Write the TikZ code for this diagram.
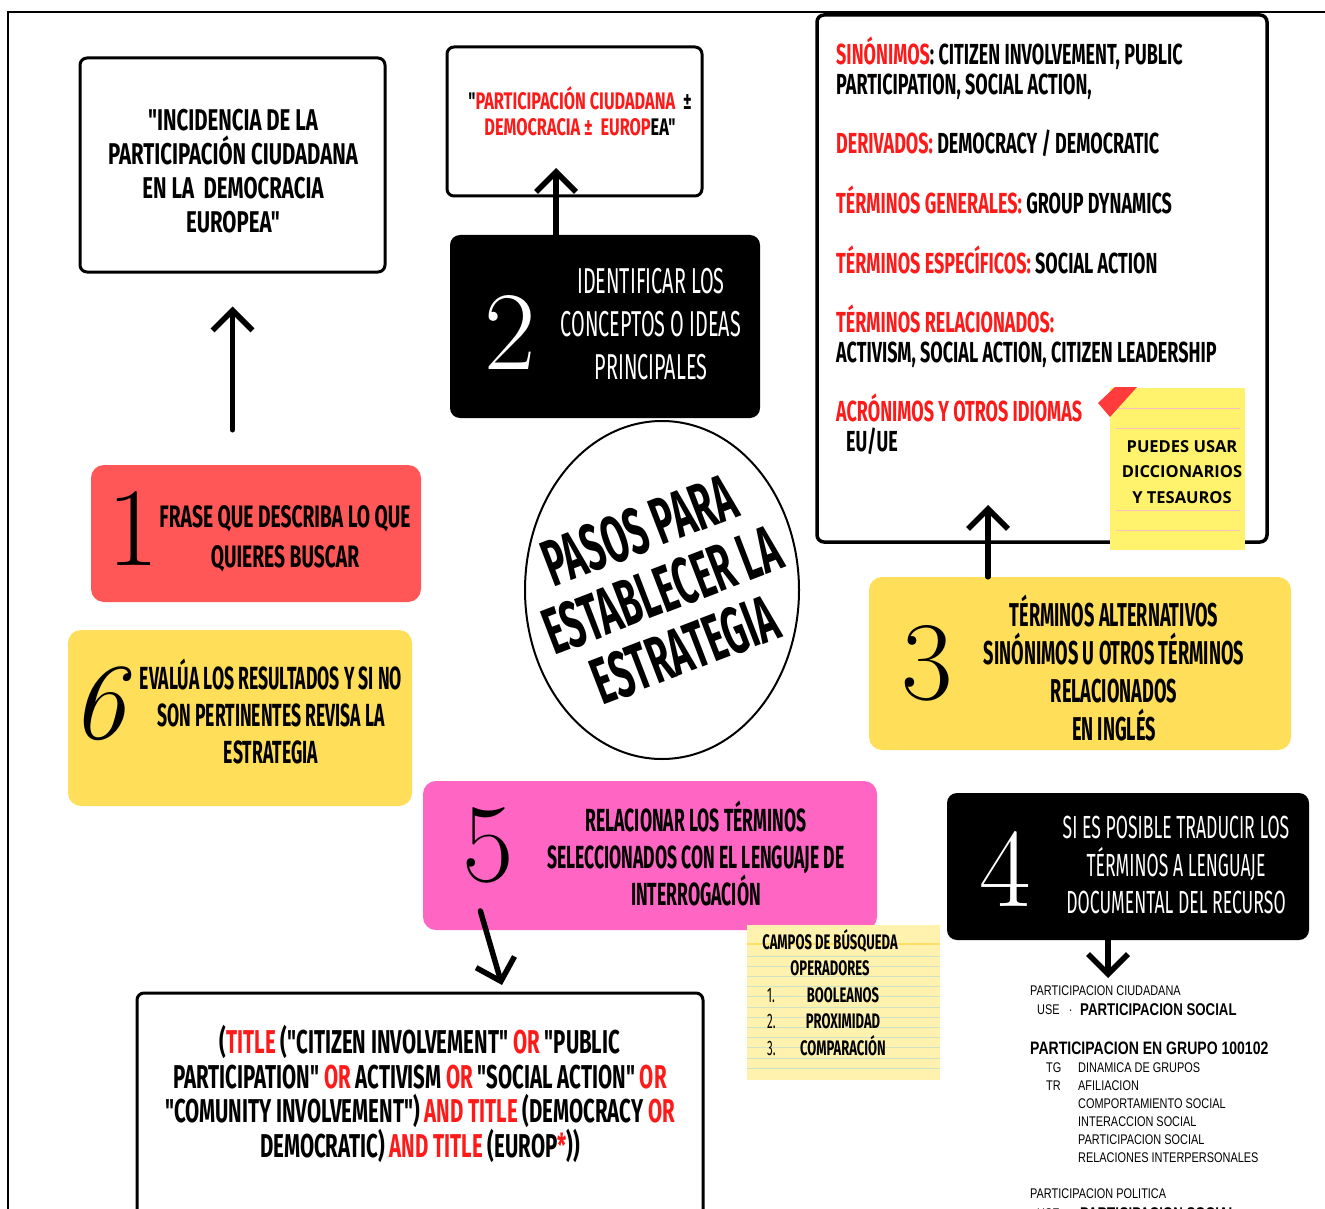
\documentclass[tikz,border=0pt]{standalone}
\usepackage{fontspec}
\usetikzlibrary{arrows.meta}
\newfontfamily\bebas[FakeStretch=0.55]{Fira Sans}
\newfontfamily\bebasw[FakeStretch=0.62]{Fira Sans}
\newfontfamily\bebasx[FakeStretch=0.68]{Fira Sans}
\newfontfamily\notefont{Open Sans}
\newfontfamily\scanfont[FakeStretch=0.78]{Liberation Sans}
\definecolor{boxred}{HTML}{FF5757}
\definecolor{boxyel}{HTML}{FFDE59}
\definecolor{boxpink}{HTML}{FF66C4}
\definecolor{txtred}{HTML}{FF1A1A}
\definecolor{stickyyel}{HTML}{FFF36E}
\definecolor{tapered}{HTML}{FF3B3B}
\definecolor{notebg}{HTML}{FFF2AE}
\definecolor{noteline}{HTML}{CFE3C4}
\definecolor{notetop}{HTML}{FFE066}
\newcommand{\rd}[1]{\textcolor{txtred}{#1}}
\begin{document}
\begin{tikzpicture}[x=1pt,y=-1pt,
  wbox/.style={draw=black, line width=3pt, rounded corners=7pt, fill=white, inner sep=0pt},
  fbox/.style={rounded corners=13pt, inner sep=0pt, draw=none},
  txt/.style={align=center, inner sep=0pt},
  num/.style={inner sep=0pt, font=\rmfamily\fontsize{112}{112}\selectfont},
  harrow/.style={line width=5.5pt, line cap=round, -{Straight Barb[length=20pt,width=40pt]}},
  ltxt/.style={anchor=base west, inner sep=0pt, font=\bebasw\bfseries\fontsize{29}{30}\selectfont},
  scan/.style={anchor=base west, inner sep=0pt, font=\scanfont\fontsize{14}{15}\selectfont, text=black},
  scanb/.style={anchor=base west, inner sep=0pt, font=\scanfont\bfseries\fontsize{17}{18}\selectfont, text=black}]
\useasboundingbox (0,0) rectangle (1325,1209);
\clip (0,0) rectangle (1325,1209);
% outer frame
\draw[line width=2pt] (8,1215) -- (8,12) -- (1330,12);

% ---------- box A (top left)
\node[wbox, minimum width=305pt, minimum height=214pt] (bA) at (232.5,165) {};
\node[txt, font=\bebasx\bfseries\fontsize{30}{34}\selectfont] (tA) at (233,171)
  {"INCIDENCIA DE LA\\PARTICIPACIÓN CIUDADANA\\EN LA\ \ DEMOCRACIA\\EUROPEA"};

% ---------- box B (top middle)
\node[wbox, minimum width=255pt, minimum height=149pt] (bB) at (574.5,121.5) {};
\node[txt, font=\bebasx\bfseries\fontsize{24}{26}\selectfont] (tB) at (580,111)
  {"\rd{PARTICIPACIÓN CIUDADANA}\ \ ±\\\rd{DEMOCRACIA ±\ \ EUROP}EA"};

% ---------- box 2 (black)
\node[fbox, fill=black, rounded corners=10pt, minimum width=310pt, minimum height=183pt] (b2) at (605,326.5) {};
\node[num, text=white] (n2) at (510,332) {2};
\node[txt, text=white, font=\bebas\fontsize{36}{43}\selectfont] (t2) at (651,324)
  {IDENTIFICAR LOS\\CONCEPTOS O IDEAS\\PRINCIPALES};

% ---------- box C (terms)
\node[wbox, line width=3.5pt, minimum width=450pt, minimum height=527pt] (bC) at (1042,278.5) {};
\node[ltxt] (c1) at (836,65) {\rd{SINÓNIMOS}: CITIZEN INVOLVEMENT, PUBLIC};
\node[ltxt] (c2) at (836,95) {PARTICIPATION, SOCIAL ACTION,};
\node[ltxt] (c3) at (836,154) {\rd{DERIVADOS:} DEMOCRACY / DEMOCRATIC};
\node[ltxt] (c4) at (836,214) {\rd{TÉRMINOS GENERALES:} GROUP DYNAMICS};
\node[ltxt] (c5) at (836,273) {\rd{TÉRMINOS ESPECÍFICOS:} SOCIAL ACTION};
\node[ltxt] (c6) at (836,332) {\rd{TÉRMINOS RELACIONADOS:}};
\node[ltxt] (c7) at (836,362) {ACTIVISM, SOCIAL ACTION, CITIZEN LEADERSHIP};
\node[ltxt] (c8) at (836,421) {\rd{ACRÓNIMOS Y OTROS IDIOMAS}};
\node[ltxt] (c9) at (846,451) {EU/UE};

% sticky note
\node[fill=stickyyel, minimum width=135pt, minimum height=162pt, inner sep=0pt] (sn) at (1177.5,469) {};
\foreach \yy in {408,428,510,530} \draw[red!25, line width=0.6pt] (1116,\yy) -- (1240,\yy);
\fill[tapered] (1098,403) -- (1115,387) -- (1137,387) -- (1110,417) -- cycle;
\node[txt, font=\notefont\bfseries\fontsize{16.5}{25.5}\selectfont] (tsn) at (1182,472)
  {PUEDES USAR\\DICCIONARIOS\\Y TESAUROS};

% ---------- circle
\draw[line width=2pt] (662,590) ellipse [x radius=137pt, y radius=169pt];
\node[txt, rotate=21, font=\bebas\bfseries\fontsize{66}{64}\selectfont] (tc) at (662,590)
  {PASOS PARA\\ESTABLECER LA\\ESTRATEGIA};

% ---------- box 1
\node[fbox, fill=boxred, minimum width=330pt, minimum height=137pt] (b1) at (256,533.5) {};
\node[num] (n1) at (133,528) {1};
\node[txt, font=\bebasw\bfseries\fontsize{31}{40}\selectfont] (t1) at (285,539)
  {FRASE QUE DESCRIBA LO QUE\\QUIERES BUSCAR};

% ---------- box 6
\node[fbox, fill=boxyel, minimum width=344pt, minimum height=176pt] (b6) at (240,718) {};
\node[num, font=\rmfamily\itshape\fontsize{108}{108}\selectfont] (n6) at (98,704) {6};
\node[txt, font=\bebas\bfseries\fontsize{32}{37}\selectfont] (t6) at (271,711)
  {EVALÚA LOS RESULTADOS Y SI NO\\SON PERTINENTES REVISA LA\\ESTRATEGIA};

% ---------- box 3
\node[fbox, fill=boxyel, minimum width=422pt, minimum height=173pt] (b3) at (1080,663.5) {};
\node[num] (n3) at (927,663) {3};
\node[txt, font=\bebas\bfseries\fontsize{33}{37.7}\selectfont] (t3) at (1114,668)
  {TÉRMINOS ALTERNATIVOS\\SINÓNIMOS U OTROS TÉRMINOS\\RELACIONADOS\\EN INGLÉS};

% ---------- box 4
\node[fbox, fill=black, rounded corners=10pt, minimum width=362pt, minimum height=147pt] (b4) at (1128,866.5) {};
\node[num, text=white] (n4) at (1005,869) {4};
\node[txt, text=white, font=\bebas\fontsize{32}{37.5}\selectfont] (t4) at (1176,865)
  {SI ES POSIBLE TRADUCIR LOS\\TÉRMINOS A LENGUAJE\\DOCUMENTAL DEL RECURSO};

% ---------- box 5
\node[fbox, fill=boxpink, minimum width=454pt, minimum height=149pt] (b5) at (650,855.5) {};
\node[num] (n5) at (488,845) {5};
\node[txt, font=\bebas\bfseries\fontsize{32}{37}\selectfont] (t5) at (696,853)
  {RELACIONAR LOS TÉRMINOS\\SELECCIONADOS CON EL LENGUAJE DE\\INTERROGACIÓN};

% campos note
\node[fill=notebg, minimum width=193pt, minimum height=155pt, inner sep=0pt] (cn) at (843.5,1002.5) {};
\draw[notetop, line width=2.5pt] (747,944) -- (940,944);
\foreach \k in {0,...,11} \draw[noteline, line width=1pt] (747,956+10.2*\k) -- (940,956+10.2*\k);
\node[txt, font=\bebasw\bfseries\fontsize{21}{26}\selectfont] (cn1) at (830,953)
  {CAMPOS DE BÚSQUEDA\\OPERADORES};
\node[anchor=base west, inner sep=0pt, font=\bebas\fontsize{21}{21}\selectfont] (cn2) at (767,1002) {1.};
\node[anchor=base west, inner sep=0pt, font=\bebas\fontsize{21}{21}\selectfont] (cn3) at (767,1028) {2.};
\node[anchor=base west, inner sep=0pt, font=\bebas\fontsize{21}{21}\selectfont] (cn4) at (767,1055) {3.};
\node[anchor=base, inner sep=0pt, font=\bebasw\bfseries\fontsize{21}{21}\selectfont] (cn5) at (843,1002) {BOOLEANOS};
\node[anchor=base, inner sep=0pt, font=\bebasw\bfseries\fontsize{21}{21}\selectfont] (cn6) at (843,1028) {PROXIMIDAD};
\node[anchor=base, inner sep=0pt, font=\bebasw\bfseries\fontsize{21}{21}\selectfont] (cn7) at (843,1055) {COMPARACIÓN};

% ---------- box D (bottom)
\node[wbox, minimum width=566pt, minimum height=230pt] (bD) at (420,1108) {};
\node[txt, font=\bebasw\bfseries\fontsize{33}{34.7}\selectfont] (tD) at (420,1094)
  {(\rd{TITLE} ("CITIZEN INVOLVEMENT" \rd{OR} "PUBLIC\\
   PARTICIPATION" \rd{OR} ACTIVISM \rd{OR} "SOCIAL ACTION" \rd{OR}\\
   "COMUNITY INVOLVEMENT") \rd{AND TITLE} (DEMOCRACY \rd{OR}\\
   DEMOCRATIC) \rd{AND TITLE} (EUROP\rd{*}))};

% ---------- thesaurus excerpt
\node[scan] (s1) at (1030,995) {PARTICIPACION CIUDADANA};
\node[scan] (s2) at (1037,1014) {USE\ \ \ ·};
\node[scanb] (s3) at (1080,1015) {PARTICIPACION SOCIAL};
\node[scanb, font=\scanfont\bfseries\fontsize{18}{19}\selectfont] (s4) at (1030,1054) {PARTICIPACION EN GRUPO 100102};
\node[scan] (s5) at (1046,1072) {TG};
\node[scan] (s6) at (1078,1072) {DINAMICA DE GRUPOS};
\node[scan] (s7) at (1046,1090) {TR};
\node[scan] (s8) at (1078,1090) {AFILIACION};
\node[scan] (s9) at (1078,1108) {COMPORTAMIENTO SOCIAL};
\node[scan] (s10) at (1078,1126) {INTERACCION SOCIAL};
\node[scan] (s11) at (1078,1144) {PARTICIPACION SOCIAL};
\node[scan] (s12) at (1078,1162) {RELACIONES INTERPERSONALES};
\node[scan] (s13) at (1030,1198) {PARTICIPACION POLITICA};
\node[scan] (s14) at (1037,1218) {USE};
\node[scanb] (s15) at (1080,1219) {PARTICIPACION SOCIAL};

% ---------- arrows
\coordinate (a2) at (556,168);
\coordinate (a3) at (988,505);
\coordinate (a4) at (1108,978);
\coordinate (a5) at (502,985);
\draw[harrow, shorten <=35pt, shorten >=33pt] (b1.north -| bA.south) -- (bA.south);
\draw[harrow] (b2.north -| a2) -- (a2);
\draw[harrow] (b3.north -| a3) -- (a3);
\draw[harrow] (b4.south -| a4) -- (a4);
\draw[harrow, shorten <=-20pt] (b5.south -| 486,0) -- (a5);
\end{tikzpicture}
\end{document}
